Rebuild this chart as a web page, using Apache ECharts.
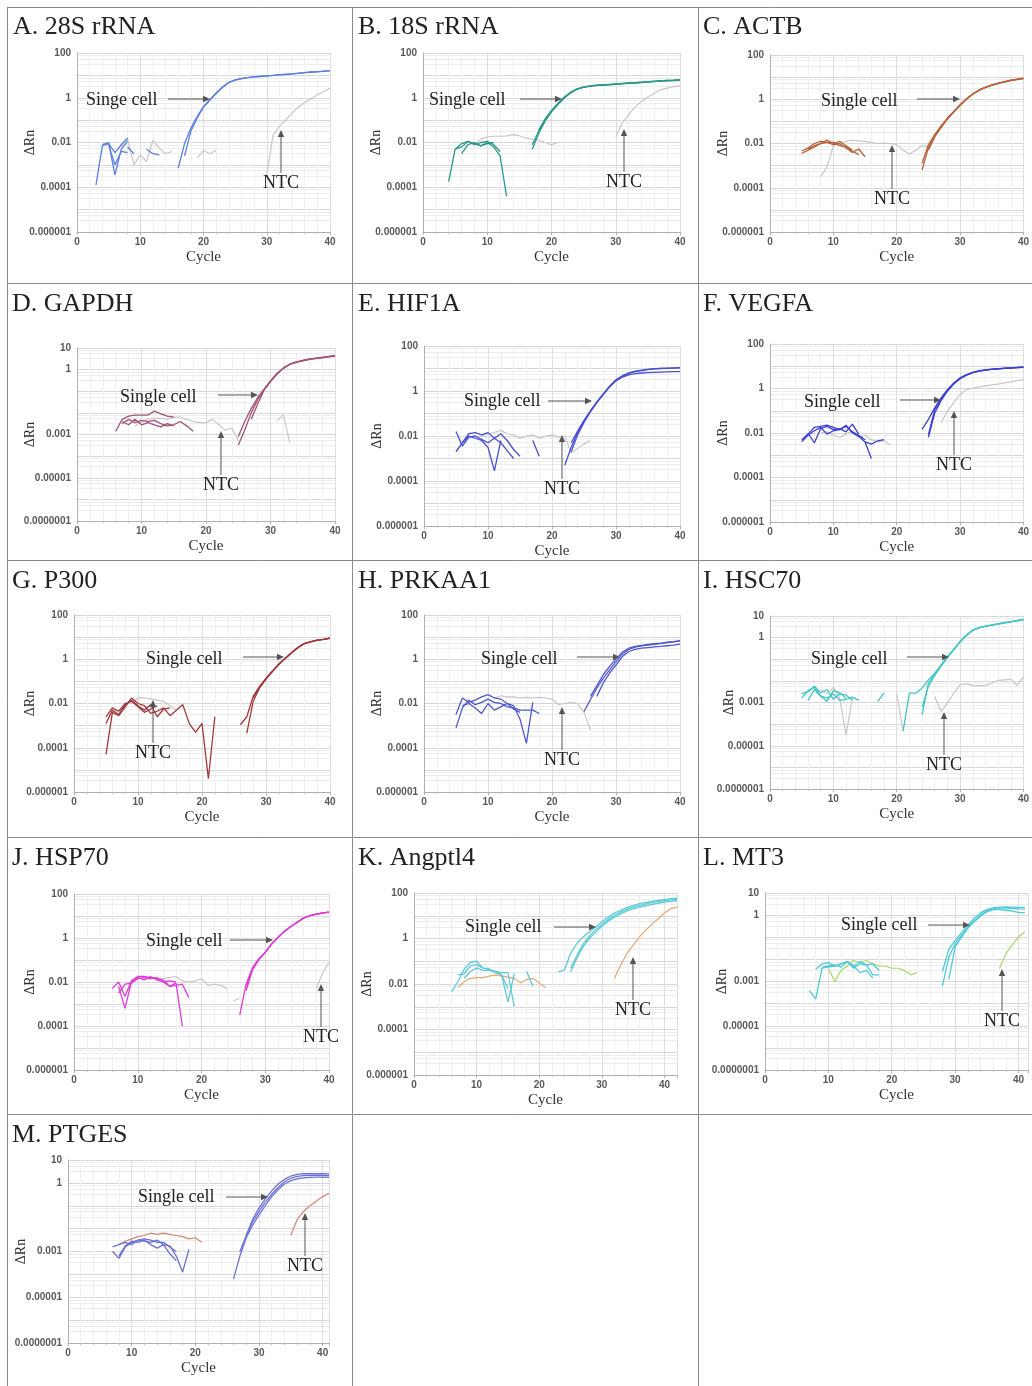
<!DOCTYPE html>
<html><head><meta charset="utf-8">
<script src="https://cdn.jsdelivr.net/npm/echarts@6/dist/echarts.min.js"></script>
<style>html,body{margin:0;padding:0;background:#fff}#c{width:1032px;height:1386px}</style>
</head><body><div id="c"></div>
<script>
// ---------- DATA (each line segment: [first cycle, log10(ΔRn) readings per cycle]) ----------
const titles = ['A. 28S rRNA','B. 18S rRNA','C. ACTB','D. GAPDH','E. HIF1A','F. VEGFA','G. P300','H. PRKAA1','I. HSC70','J. HSP70','K. Angptl4','L. MT3','M. PTGES'];
const singleLabels = ['Singe cell','Single cell','Single cell','Single cell','Single cell','Single cell','Single cell','Single cell','Single cell','Single cell','Single cell','Single cell','Single cell'];
const xTickLabels = [0,10,20,30,40];
const yTicksWide = [100,1,0.01,0.0001,0.000001];
const yTicksNarrow = [10,1,0.001,0.00001,0.0000001];

const A_single = [
 [16,[-3.15,-2.05,-1.36,-0.84,-0.39,-0.09,0.21,0.48,0.69,0.8,0.86,0.9,0.93,0.96,0.98,1.0,1.03,1.05,1.07,1.1,1.12,1.15,1.17,1.19,1.21]],
 [17,[-2.6,-1.5,-0.9,-0.42,-0.11,0.19,0.46,0.67,0.79,0.85,0.9,0.93,0.95,0.97,1.0,1.02,1.04,1.07,1.09,1.12,1.14,1.16,1.18,1.2]],
 [3,[-3.9,-2.15,-2.05,-2.45,-2.1,-1.8]],
 [4,[-2.1,-2.0,-3.45,-2.3,-1.95]],
 [5,[-2.1,-3.0,-2.4,-2.45]],
 [8,[-2.2,-2.5]],
 [11,[-2.3,-2.5,-2.55]]
];
const A_ntc = [
 [7,[-2.2,-1.85,-3.0,-2.55,-2.85,-1.9,-2.25,-2.5,-2.4]],
 [19,[-2.7,-2.35,-2.5,-2.35]],
 [30,[-3.45,-1.66,-1.28,-0.99,-0.69,-0.42,-0.21,-0.04,0.13,0.28,0.43]]
];
const B_single = [
 [17,[-2.1,-1.5,-1.0,-0.6,-0.27,0.01,0.24,0.39,0.48,0.52,0.55,0.57,0.59,0.61,0.63,0.65,0.67,0.69,0.71,0.73,0.75,0.77,0.78,0.8]],
 [17,[-2.3,-1.6,-1.05,-0.63,-0.3,-0.01,0.22,0.38,0.47,0.51,0.54,0.56,0.58,0.6,0.62,0.64,0.66,0.68,0.7,0.72,0.74,0.76,0.77,0.79]],
 [18,[-1.45,-0.95,-0.57,-0.25,0.03,0.25,0.4,0.49,0.53,0.56,0.58,0.6,0.62,0.64,0.66,0.68,0.7,0.72,0.74,0.76,0.78,0.79,0.81]],
 [4,[-3.75,-2.3,-2.05,-1.95,-2.05,-2.15,-2.0,-2.2,-2.6,-4.4]],
 [5,[-2.3,-2.2,-1.95,-2.1,-2.0,-1.95,-2.1,-2.4]],
 [6,[-2.5,-2.1,-2.0,-2.15,-2.05,-2.0]]
];
const B_ntc = [
 [8,[-2.1,-1.85,-1.75,-1.72,-1.72,-1.7,-1.65,-1.7,-1.8,-1.85,-1.9,-2.0,-2.1,-2.0]],
 [30,[-1.74,-1.14,-0.76,-0.42,-0.17,0.03,0.2,0.36,0.43,0.5,0.54]]
];
const C_single = [
 [24,[-2.9,-2.06,-1.6,-1.2,-0.85,-0.55,-0.25,0.02,0.25,0.42,0.55,0.65,0.73,0.8,0.86,0.91,0.95]],
 [24,[-3.2,-2.2,-1.65,-1.25,-0.88,-0.57,-0.27,0.0,0.23,0.4,0.53,0.63,0.71,0.78,0.84,0.89,0.93]],
 [25,[-2.3,-1.7,-1.28,-0.9,-0.58,-0.28,0.0,0.24,0.41,0.54,0.64,0.72,0.79,0.85,0.9,0.94]],
 [5,[-2.45,-2.3,-2.15,-2.0,-1.95,-2.05,-2.0,-2.2,-2.4,-2.25,-2.6]],
 [5,[-2.35,-2.2,-2.0,-1.9,-1.95,-1.95,-2.1,-2.15,-2.35,-2.5]],
 [6,[-2.25,-2.1,-2.0,-1.85,-2.0,-1.9,-2.1,-2.3]]
];
const C_ntc = [
 [8,[-3.5,-3.05,-2.1,-1.99,-1.9,-1.85,-1.88,-1.9,-1.95,-2.0,-1.98,-2.0,-2.05,-2.3,-2.47,-2.3,-2.1,-2.15]]
];
const D_single = [
 [25,[-3.1,-2.4,-1.8,-1.3,-0.9,-0.52,-0.18,0.08,0.25,0.35,0.42,0.48,0.52,0.56,0.6,0.63]],
 [25,[-3.5,-2.8,-2.0,-1.4,-0.92,-0.54,-0.2,0.06,0.24,0.34,0.41,0.47,0.51,0.55,0.59,0.62]],
 [27,[-2.3,-1.6,-0.95,-0.55,-0.2,0.07,0.25,0.36,0.43,0.49,0.53,0.57,0.61,0.65]],
 [6,[-2.85,-2.3,-2.15,-2.1,-2.1,-2.1,-1.92,-2.05,-2.15,-2.2]],
 [7,[-2.5,-2.3,-2.45,-2.35,-2.4,-2.35,-2.5,-2.6,-2.55,-2.4,-2.6,-2.85]],
 [7,[-2.4,-2.55,-2.3,-2.55,-2.45,-2.55,-2.65,-2.5,-2.6]]
];
const D_ntc = [
 [9,[-2.6,-2.4,-2.3,-2.25,-2.25,-2.3,-2.2,-2.2,-2.3,-2.4,-2.45,-2.45,-2.3,-2.55,-2.8,-2.7,-3.3]],
 [31,[-2.38,-2.08,-3.4]]
];
const E_single = [
 [22,[-3.3,-2.5,-1.85,-1.35,-0.9,-0.5,-0.15,0.2,0.48,0.66,0.78,0.86,0.91,0.95,0.98,1.0,1.01,1.02,1.03]],
 [23,[-2.7,-1.95,-1.4,-0.93,-0.52,-0.17,0.18,0.45,0.62,0.72,0.77,0.8,0.82,0.83,0.84,0.85,0.86,0.86]],
 [23,[-2.3,-1.78,-1.3,-0.88,-0.48,-0.13,0.21,0.5,0.68,0.8,0.88,0.93,0.96,0.99,1.01,1.02,1.03,1.04]],
 [5,[-2.7,-2.3,-1.9,-1.85,-1.95,-1.85,-2.1,-1.9,-2.2,-2.6,-2.9]],
 [5,[-1.8,-2.45,-2.05,-2.0,-2.15,-2.3,-2.1,-2.3,-2.65,-3.0]],
 [6,[-2.3,-2.0,-2.1,-2.2,-2.5,-3.55,-2.2]],
 [17,[-2.2,-2.9]]
];
const E_ntc = [
 [9,[-2.0,-1.9,-1.85,-1.75,-1.9,-1.95,-2.1,-2.0,-1.95,-2.1,-2.0,-1.95,-2.05,-2.0,-2.76,-2.55,-2.35,-2.2]]
];
const F_single = [
 [24,[-1.84,-1.39,-0.87,-0.42,-0.05,0.25,0.48,0.62,0.73,0.8,0.84,0.87,0.89,0.91,0.93,0.95,0.97]],
 [25,[-2.07,-0.95,-0.5,-0.1,0.22,0.45,0.6,0.71,0.78,0.83,0.86,0.88,0.9,0.92,0.94,0.96]],
 [25,[-2.2,-1.1,-0.55,-0.12,0.2,0.44,0.6,0.71,0.78,0.83,0.86,0.88,0.9,0.92,0.94,0.95]],
 [5,[-2.3,-2.05,-1.75,-1.7,-1.65,-1.75,-1.85,-1.7,-1.95,-2.1,-2.3]],
 [5,[-2.4,-2.1,-1.9,-1.75,-2.05,-1.9,-1.85,-1.65,-2.0,-2.15,-2.4,-3.15]],
 [6,[-2.0,-2.45,-1.8,-1.7,-1.85,-1.8,-1.95,-1.6,-2.05]],
 [15,[-2.4,-2.5,-2.35,-2.3]]
];
const F_ntc = [
 [8,[-2.0,-1.95,-2.1,-2.2,-2.05,-1.9,-2.2,-2.1,-2.3,-2.4,-2.35,-2.55]],
 [27,[-1.54,-1.02,-0.65,-0.27,-0.05,0.02,0.07,0.12,0.16,0.2,0.25,0.3,0.35,0.4]]
];
const G_single = [
 [26,[-2.96,-2.6,-1.68,-1.23,-0.86,-0.53,-0.21,0.05,0.3,0.54,0.72,0.8,0.86,0.9,0.95]],
 [27,[-3.34,-1.9,-1.3,-0.9,-0.56,-0.24,0.03,0.28,0.52,0.7,0.79,0.85,0.9,0.94]],
 [28,[-1.75,-1.25,-0.88,-0.55,-0.22,0.04,0.29,0.53,0.71,0.8,0.86,0.9,0.95]],
 [5,[-4.3,-2.4,-2.55,-2.15,-1.75,-2.0,-2.1,-2.45,-2.35,-2.2,-2.55,-2.3,-2.05,-2.9,-3.3,-2.9,-5.4,-2.6]],
 [5,[-2.9,-2.3,-2.5,-2.05,-1.85,-2.1,-2.3,-2.05,-2.6,-2.25,-2.2]],
 [5,[-2.6,-2.2,-2.35,-2.0,-1.9,-2.15,-2.4,-2.25,-2.1]]
];
const G_ntc = [
 [9,[-2.0,-1.75,-1.75,-1.8,-1.85,-1.9,-2.1,-2.3]]
];
const H_single = [
 [25,[-2.36,-1.83,-1.31,-0.86,-0.48,-0.11,0.23,0.45,0.55,0.6,0.64,0.67,0.71,0.75,0.79,0.83]],
 [26,[-1.68,-1.2,-0.7,-0.32,0.02,0.32,0.5,0.58,0.63,0.67,0.7,0.73,0.77,0.8,0.84]],
 [27,[-1.68,-1.08,-0.63,-0.26,0.12,0.35,0.45,0.5,0.53,0.56,0.58,0.61,0.64,0.68]],
 [5,[-3.1,-2.2,-1.85,-2.05,-1.95,-1.8,-1.95,-2.0,-2.15,-2.2,-2.3,-2.3,-2.3,-2.45]],
 [5,[-2.5,-1.75,-1.95,-1.85,-1.7,-1.6,-1.75,-1.8,-2.0,-2.1,-2.7,-3.8,-1.95]],
 [6,[-2.1,-2.0,-2.2,-2.45,-2.0,-2.3,-2.15,-2.0,-2.25,-2.4]]
];
const H_ntc = [
 [11,[-1.75,-1.65,-1.7,-1.7,-1.75,-1.72,-1.75,-1.72,-1.75,-1.8,-2.05,-2.0,-1.95,-2.0,-2.4,-3.2]]
];
const I_single = [
 [21,[-4.34,-2.57,-2.57,-2.34,-1.95,-1.65,-1.26,-0.88,-0.54,-0.18,0.12,0.35,0.46,0.52,0.58,0.63,0.68,0.73,0.78,0.83]],
 [24,[-3.57,-2.1,-1.7,-1.3,-0.9,-0.55,-0.2,0.1,0.33,0.45,0.52,0.58,0.63,0.68,0.73,0.78,0.83]],
 [24,[-3.2,-2.26,-1.75,-1.32,-0.92,-0.57,-0.21,0.1,0.34,0.46,0.53,0.59,0.64,0.69,0.74,0.79,0.84]],
 [5,[-2.6,-2.5,-2.25,-2.55,-2.4,-2.85,-2.6,-2.65,-2.9]],
 [5,[-2.8,-2.45,-2.3,-2.7,-2.95,-2.45,-2.55,-2.8]],
 [6,[-2.9,-2.4,-2.7,-2.8,-2.6,-2.9,-2.85,-2.75,-2.9]],
 [17,[-2.95,-2.55]]
];
const I_ntc = [
 [8,[-2.4,-2.6,-2.3,-2.8,-4.5,-2.8]],
 [20,[-2.6,-4.3]],
 [26,[-2.72,-3.42,-3.03,-2.57,-2.18,-2.13,-2.22,-2.22,-2.22,-2.1,-1.98,-1.95,-1.92,-2.2,-1.83]]
];
const J_single = [
 [26,[-3.5,-2.1,-1.35,-0.94,-0.64,-0.26,0.04,0.31,0.52,0.72,0.91,1.02,1.09,1.14,1.18]],
 [27,[-2.4,-1.45,-0.98,-0.66,-0.28,0.02,0.3,0.51,0.71,0.9,1.01,1.08,1.13,1.17]],
 [27,[-2.2,-1.4,-0.96,-0.65,-0.27,0.03,0.3,0.52,0.72,0.9,1.02,1.09,1.14,1.18]],
 [6,[-2.3,-2.0,-2.65,-1.95,-1.75,-1.75,-1.8,-1.85,-1.9,-2.2,-2.05,-4.0]],
 [7,[-2.5,-2.1,-2.05,-1.85,-1.8,-1.85,-1.8,-2.0,-2.2,-2.15,-2.1,-2.7]],
 [7,[-2.2,-3.2,-2.0,-1.8,-1.9,-1.75,-1.9,-2.0,-1.95,-2.0]]
];
const J_ntc = [
 [13,[-1.9,-1.85,-1.8,-1.75,-1.95,-2.0,-1.95,-1.85,-2.15,-2.1,-2.15,-2.3]],
 [25,[-2.85,-2.75]],
 [38,[-2.3,-1.6,-1.1]]
];
const K_single = [
 [23,[-1.46,-1.4,-0.66,-0.22,0.07,0.29,0.51,0.73,0.93,1.12,1.24,1.36,1.45,1.53,1.58,1.63,1.67,1.71,1.75,1.77]],
 [25,[-1.46,-0.88,-0.37,0.0,0.27,0.54,0.75,0.95,1.08,1.21,1.3,1.38,1.44,1.5,1.55,1.6,1.63,1.66]],
 [25,[-1.32,-0.75,-0.25,0.1,0.38,0.62,0.83,1.02,1.16,1.28,1.38,1.46,1.52,1.58,1.63,1.67,1.7,1.72]],
 [6,[-2.35,-1.9,-1.35,-1.05,-1.0,-1.3,-1.35,-1.5,-1.6,-2.8,-1.55]],
 [7,[-1.6,-1.55,-1.2,-1.15,-1.3,-1.35,-1.45,-1.5,-1.5,-3.0]],
 [8,[-1.75,-1.45,-1.3,-1.4,-1.4,-1.45,-1.6,-2.2]],
 [18,[-1.45,-2.1]]
];
const K_ntc = [
 [7,[-2.15,-1.9,-1.75,-1.72,-1.72,-1.65,-1.6,-1.65,-1.7,-1.75,-1.95,-1.8,-1.75,-1.95,-2.15]],
 [32,[-1.76,-1.17,-0.66,-0.3,0.07,0.36,0.63,0.87,1.12,1.31,1.38]]
];
const L_single = [
 [28,[-2.55,-1.55,-1.15,-0.8,-0.45,-0.15,0.1,0.25,0.33,0.36,0.37,0.36,0.35,0.35]],
 [28,[-3.2,-1.9,-1.3,-0.9,-0.55,-0.25,0.0,0.2,0.3,0.33,0.32,0.3,0.28,0.27]],
 [29,[-2.9,-1.45,-1.0,-0.6,-0.3,-0.05,0.15,0.25,0.25,0.22,0.18,0.12,0.1]],
 [7,[-3.4,-3.8,-2.4,-2.35,-2.3,-2.2,-2.1,-2.3,-2.1,-2.25,-2.7,-2.7]],
 [8,[-2.45,-2.2,-2.15,-2.3,-2.2,-2.1,-2.4,-2.2,-2.25,-2.2,-2.5]],
 [9,[-2.35,-2.3,-2.25,-2.35,-2.1,-2.3,-2.6,-2.5,-2.85]]
];
const L_ntc = [
 [10,[-2.4,-3.0,-2.5,-2.3,-2.05,-2.15,-2.05,-2.2,-2.3,-2.3,-2.4,-2.4,-2.5,-2.7,-2.6]],
 [37,[-2.41,-1.74,-1.36,-0.98,-0.76]]
];
const M_single = [
 [26,[-4.2,-3.2,-2.4,-1.85,-1.4,-1.0,-0.6,-0.3,-0.05,0.1,0.18,0.22,0.24,0.25,0.25,0.24]],
 [27,[-3.0,-2.3,-1.7,-1.25,-0.85,-0.5,-0.2,0.05,0.2,0.28,0.32,0.33,0.33,0.33,0.32]],
 [28,[-2.3,-1.6,-1.1,-0.7,-0.35,-0.05,0.15,0.3,0.37,0.4,0.4,0.4,0.4,0.39]],
 [7,[-3.0,-3.3,-2.8,-2.6,-2.5,-2.55,-2.6,-2.5,-2.7,-2.75,-3.2,-3.9,-2.9]],
 [7,[-2.8,-2.7,-2.6,-2.7,-2.5,-2.45,-2.5,-2.6,-2.6,-2.8,-3.0]],
 [8,[-3.2,-2.75,-2.55,-2.6,-2.5,-2.7,-2.85,-2.7,-3.1,-3.4]]
];
const M_ntc = [
 [8,[-2.7,-2.55,-2.45,-2.35,-2.3,-2.2,-2.25,-2.2,-2.25,-2.3,-2.35,-2.45,-2.4,-2.6]],
 [35,[-2.3,-1.6,-1.25,-1.0,-0.8,-0.6,-0.45]]
];

const singles = [A_single,B_single,C_single,D_single,E_single,F_single,G_single,H_single,I_single,J_single,K_single,L_single,M_single];
const ntcs = [A_ntc,B_ntc,C_ntc,D_ntc,E_ntc,F_ntc,G_ntc,H_ntc,I_ntc,J_ntc,K_ntc,L_ntc,M_ntc];
const yTickSets = [yTicksWide,yTicksWide,yTicksWide,yTicksNarrow,yTicksWide,yTicksWide,yTicksWide,yTicksWide,yTicksNarrow,yTicksWide,yTicksWide,yTicksNarrow,yTicksNarrow];
const xMaxes = [40,40,40,40,40,40,40,40,40,40,42,41.5,41];

// ---------- LAYOUT / STYLE ----------
const gridRects = [
 [77,53,253,179],[423,53,257,179],[770,55,258,177],
 [77,348,258,173],[424,346,256,180],[770,344,258,178],
 [74,615,256,177],[424,615,256,177],[770,616,257,173],
 [74,894,255,176],[414,893,263,182],[765,893,263,177],
 [68,1160,261,183]
];
const nameGaps = [40,40,40,40,40,40,37,40,34,37,40,36,40];
const scColors = ['#5b80e0','#2a9a8a','#b8613a','#a35277','#4a4fd4','#3d3fd6','#a3383c','#5058d0','#42c6c4','#e03cd8','#5ccbd8','#4dc9d9','#6c70d6'];
const ntcColors = ['#c8c8c8','#c8c8c8','#c8c8c8','#c8c8c8','#c8c8c8','#c8c8c8','#c8c8c8','#c8c8c8','#c8c8c8','#c8c8c8','#e8a66f','#a9d865','#d98372'];
const titlePos = [[13,27],[358,27],[703,27],[12,304],[358,304],[703,304],[12,581],[358,581],[703,581],[12,858],[358,858],[703,858],[12,1135]];
// annotation: [singleTextLeft, singleTextY, arrowX1, arrowX2, arrowY, ntcCenterX, ntcCenterY, ntcArrowTopY]
const annot = [
 [86,100,168,210,99,281,183,130],
 [429,100,520,562,99,624,182,129],
 [821,101,917,960,99,892,199,145],
 [120,397,218,258,395,221,485,431],
 [464,401,548,592,401,562,489,435],
 [804,402,900,941,400,954,465,411],
 [146,659,243,284,657,153,753,700],
 [481,659,577,620,657,562,760,707],
 [811,659,907,949,657,944,765,712],
 [146,941,230,273,940,321,1037,984],
 [465,927,554,596,927,633,1010,957],
 [841,925,928,970,925,1002,1021,969],
 [138,1197,226,268,1197,305,1266,1213]
];

function toSeriesData(seg){ const s=seg[0], v=seg[1]; return v.map((L,i)=>[s+i, Math.pow(10,L)]); }
function expOf(v){ return Math.round(Math.log10(v)); }
function fmtPow(v){ const e=expOf(v); return e>=0 ? String(Math.pow(10,e)) : '0.'+'0'.repeat(-e-1)+'1'; }

const grids=[], xAxes=[], yAxes=[], series=[], graphics=[];
const serif = '"Liberation Serif","DejaVu Serif",serif';
const labFont = '"Liberation Sans",Arial,sans-serif';

function arrow(x1,y1,x2,y2){
  const ang=Math.atan2(y2-y1,x2-x1), L=7, H=3.2, c=Math.cos(ang), s=Math.sin(ang);
  graphics.push({type:'line',z:10,shape:{x1:x1,y1:y1,x2:x2-c*3,y2:y2-s*3},style:{stroke:'#555',lineWidth:1}});
  graphics.push({type:'polygon',z:10,shape:{points:[[x2,y2],[x2-L*c+H*s,y2-L*s-H*c],[x2-L*c-H*s,y2-L*s+H*c]]},style:{fill:'#555'}});
}

titles.forEach((t,i)=>{
  const r=gridRects[i];
  grids.push({left:r[0],top:r[1],width:r[2],height:r[3],containLabel:false,show:false});
  const xMax = xMaxes[i];
  xAxes.push({type:'value',gridIndex:i,min:0,max:xMax,interval:10,
    axisLine:{show:true,lineStyle:{color:'#b0b0b0',width:1}},
    axisTick:{show:true,length:3,lineStyle:{color:'#b0b0b0'}},
    minorTick:{show:true,splitNumber:5,length:2,lineStyle:{color:'#c0c0c0'}},
    axisLabel:{fontFamily:labFont,fontSize:10,fontWeight:'bold',color:'#595959',margin:5,
      formatter:v=> xTickLabels.indexOf(v)>=0 ? String(v) : ''},
    splitLine:{show:true,lineStyle:{color:'#dedede',width:1}},
    minorSplitLine:{show:true,lineStyle:{color:'#f0f0f0',width:1}},
    name:'Cycle',nameLocation:'middle',nameGap:18,nameMoveOverlap:false,
    nameTextStyle:{fontFamily:serif,fontSize:15,color:'#333'}});
  const ticks=yTickSets[i];
  const tickExps=ticks.map(expOf);
  const yMin = Math.min.apply(null,ticks), yMax=Math.max.apply(null,ticks);
  yAxes.push({type:'log',logBase:10,gridIndex:i,min:yMin,max:yMax,splitNumber:8,
    axisLine:{show:true,lineStyle:{color:'#b0b0b0',width:1}},
    axisTick:{show:false},
    axisLabel:{fontFamily:labFont,fontSize:10,fontWeight:'bold',color:'#595959',margin:6,
      formatter:v=> tickExps.indexOf(expOf(v))>=0 ? fmtPow(v) : ''},
    splitLine:{show:true,lineStyle:{color:'#d6d6d6',width:1}},
    minorTick:{show:false,splitNumber:4},
    minorSplitLine:{show:true,lineStyle:{color:'#ededed',width:1}},
    name:'ΔRn',nameLocation:'middle',nameGap:nameGaps[i],nameMoveOverlap:false,
    nameTextStyle:{fontFamily:serif,fontSize:14,color:'#333'}});
  ntcs[i].forEach(seg=>series.push({type:'line',xAxisIndex:i,yAxisIndex:i,data:toSeriesData(seg),
    showSymbol:false,symbol:'none',silent:true,z:2,lineStyle:{color:ntcColors[i],width:1.2}}));
  singles[i].forEach(seg=>series.push({type:'line',xAxisIndex:i,yAxisIndex:i,data:toSeriesData(seg),
    showSymbol:false,symbol:'none',silent:true,z:3,lineStyle:{color:scColors[i],width:1.3}}));

  graphics.push({type:'text',x:titlePos[i][0],y:titlePos[i][1],z:10,
    style:{text:t,font:'26px '+serif,fill:'#222',textAlign:'left',textVerticalAlign:'middle'}});
  const a=annot[i];
  graphics.push({type:'text',x:a[0],y:a[1],z:10,
    style:{text:singleLabels[i],font:'18px '+serif,fill:'#222',textAlign:'left',textVerticalAlign:'middle'}});
  arrow(a[2],a[4],a[3],a[4]);
  graphics.push({type:'text',x:a[5],y:a[6],z:10,
    style:{text:'NTC',font:'18px '+serif,fill:'#222',textAlign:'center',textVerticalAlign:'middle'}});
  arrow(a[5],a[6]-10,a[5],a[7]);
});

[[7.5,7,7.5,1386],[352.5,7,352.5,1386],[698.5,7,698.5,1386],
 [7,7.5,1032,7.5],[7,283.5,1032,283.5],[7,560.5,1032,560.5],[7,837.5,1032,837.5],[7,1114.5,1032,1114.5]
].forEach(l=>graphics.push({type:'line',z:10,shape:{x1:l[0],y1:l[1],x2:l[2],y2:l[3]},style:{stroke:'#8a8a8a',lineWidth:1}}));

const chart = echarts.init(document.getElementById('c'),null,{renderer:'canvas'});
chart.setOption({animation:false,backgroundColor:'#ffffff',grid:grids,xAxis:xAxes,yAxis:yAxes,series:series,graphic:{elements:graphics}});
</script></body></html>
